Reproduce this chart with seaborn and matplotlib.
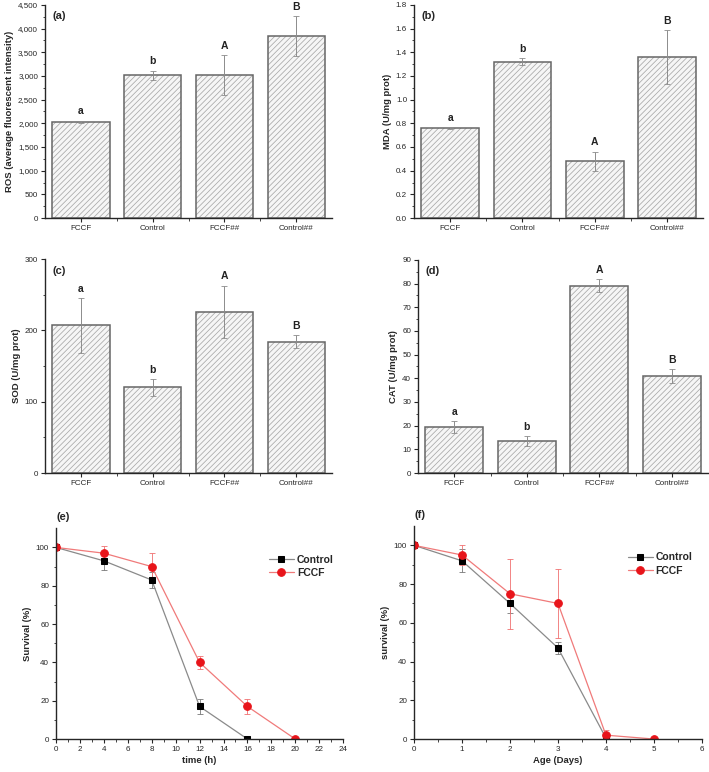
import numpy as np
import pandas as pd
import matplotlib
matplotlib.use("Agg")
import matplotlib.pyplot as plt
import matplotlib.ticker as mticker
from matplotlib.patches import Rectangle
import seaborn as sns

sns.set_style("ticks")
plt.rcParams['font.family'] = ['Liberation Sans', 'DejaVu Sans']
plt.rcParams['hatch.linewidth'] = 0.55

groups = ['FCCF', 'Control', 'FCCF##', 'Control##']

ros = [2035, 3015, 3025, 3850]
ros_err = [20, 95, 420, 420]
mda = [0.76, 1.32, 0.48, 1.36]
mda_err = [0.01, 0.03, 0.08, 0.23]
sod = [207, 120, 226, 184]
sod_err = [38, 12, 37, 9]
cat = [19.5, 13.5, 79.2, 41.0]
cat_err = [2.5, 2.2, 2.8, 2.8]
letters = ['a', 'b', 'A', 'B']

time_ctrl = [0, 4, 8, 12, 16]
surv_ctrl = [100, 93, 83, 17, 0]
surv_ctrl_err = [0, 5, 4, 4, 0]
time_fccf = [0, 4, 8, 12, 16, 20]
surv_fccf = [100, 97, 90, 40, 17, 0]
surv_fccf_err = [0, 3.5, 7, 3.5, 4, 0]

age_ctrl = [0, 1, 2, 3, 4]
age_surv_ctrl = [100, 92, 70, 47, 0.5]
age_surv_ctrl_err = [0, 6, 5, 3, 0]
age_fccf = [0, 1, 2, 3, 4, 5]
age_surv_fccf = [100, 95, 75, 70, 2, 0]
age_surv_fccf_err = [0, 5, 18, 18, 2.5, 0]

fig = plt.figure(figsize=(7.09, 7.72), dpi=100)

tick_fs = 5.8
lab_fs = 6.8


def style_axes(ax):
    sns.despine(ax=ax)
    ax.spines['left'].set_linewidth(1.0)
    ax.spines['bottom'].set_linewidth(1.0)
    ax.tick_params(axis='both', which='major', direction='out', length=3,
                   width=0.8, labelsize=tick_fs, pad=2)
    ax.tick_params(axis='both', which='minor', direction='out', length=1.8,
                   width=0.6)


def bar_panel(rect, vals, errs, ylab, ymax, major, minor, tag, comma=False):
    ax = fig.add_axes(rect)
    # hatch colour follows edge colour, so draw light hatch first, dark outline on top
    sns.barplot(x=groups, y=vals, ax=ax, color='#f6f6f6', errorbar=None,
                width=0.8, edgecolor='#a8a8a8', linewidth=0)
    for p in list(ax.patches):
        p.set_hatch('//////')
        ax.add_patch(Rectangle(p.get_xy(), p.get_width(), p.get_height(),
                               fill=False, edgecolor='#666666', linewidth=1.1, zorder=p.get_zorder() + 0.1))
    ax.errorbar(range(len(groups)), vals, yerr=errs, fmt='none',
                ecolor='#8c8c8c', elinewidth=0.7, capsize=2, capthick=0.6, zorder=5)
    for i, (v, e) in enumerate(zip(vals, errs)):
        ax.text(i, v + e + ymax * 0.02, letters[i], ha='center', va='bottom',
                fontsize=7.5, fontweight='bold', color='#222222')
    ax.set_xlim(-0.5, 3.5)
    ax.set_ylim(0, ymax)
    ax.yaxis.set_major_locator(mticker.MultipleLocator(major))
    ax.yaxis.set_minor_locator(mticker.MultipleLocator(minor))
    ax.xaxis.set_minor_locator(mticker.FixedLocator([0.5, 1.5, 2.5]))
    if comma:
        ax.yaxis.set_major_formatter(mticker.FuncFormatter(lambda v, p: f'{int(v):,}'))
    ax.set_ylabel(ylab, fontsize=lab_fs, fontweight='bold', labelpad=3)
    ax.set_xlabel('')
    style_axes(ax)
    ax.text(0.025, 0.97, tag, transform=ax.transAxes, ha='left', va='top',
            fontsize=8, fontweight='bold')
    return ax


bar_panel([0.0635, 0.7176, 0.405, 0.276], ros, ros_err,
          'ROS (average fluorescent intensity)', 4500, 500, 250, '(a)', comma=True)
bar_panel([0.584, 0.7176, 0.4076, 0.276], mda, mda_err,
          'MDA (U/mg prot)', 1.8, 0.2, 0.1, '(b)')
bar_panel([0.0635, 0.3873, 0.405, 0.277], sod, sod_err,
          'SOD (U/mg prot)', 300, 100, 50, '(c)')
bar_panel([0.5896, 0.3873, 0.409, 0.276], cat, cat_err,
          'CAT (U/mg prot)', 90, 10, 5, '(d)')


def line_panel(rect, xc, yc, ec, xf, yf, ef, xlab, ylab, xmax, xmajor, xminor, tag):
    ax = fig.add_axes(rect)
    ax.errorbar(xc, yc, yerr=ec, fmt='none', ecolor='#777777', elinewidth=0.6,
                capsize=2, capthick=0.6)
    ax.errorbar(xf, yf, yerr=ef, fmt='none', ecolor='#f07070', elinewidth=0.6,
                capsize=2, capthick=0.6)
    sns.lineplot(x=xc, y=yc, ax=ax, color='#8a8a8a', linewidth=0.9,
                 marker='s', markersize=5, markerfacecolor='black',
                 markeredgecolor='black', label='Control')
    sns.lineplot(x=xf, y=yf, ax=ax, color='#f07a7a', linewidth=0.9,
                 marker='o', markersize=5.5, markerfacecolor='#e8141a',
                 markeredgecolor='#e8141a', label='FCCF')
    ax.set_xlim(0, xmax)
    ax.set_ylim(0, 110)
    ax.xaxis.set_major_locator(mticker.MultipleLocator(xmajor))
    ax.xaxis.set_minor_locator(mticker.MultipleLocator(xminor))
    ax.yaxis.set_major_locator(mticker.FixedLocator([0, 20, 40, 60, 80, 100]))
    ax.yaxis.set_minor_locator(mticker.FixedLocator([10, 30, 50, 70, 90]))
    ax.set_xlabel(xlab, fontsize=lab_fs, fontweight='bold', labelpad=2)
    ax.set_ylabel(ylab, fontsize=lab_fs, fontweight='bold', labelpad=3)
    style_axes(ax)
    leg = ax.legend(loc='upper right', bbox_to_anchor=(1.0, 0.92), frameon=False,
                    fontsize=7.5, handlelength=2.4, handletextpad=0.3, labelspacing=0.3)
    for t in leg.get_texts():
        t.set_fontweight('bold')
    ax.text(0.0, 1.03, tag, transform=ax.transAxes, ha='left', va='bottom',
            fontsize=8, fontweight='bold')
    return ax


line_panel([0.079, 0.0427, 0.405, 0.273], time_ctrl, surv_ctrl, surv_ctrl_err,
           time_fccf, surv_fccf, surv_fccf_err, 'time (h)', 'Survival (%)',
           24, 2, 1, '(e)')
line_panel([0.584, 0.0427, 0.406, 0.276], age_ctrl, age_surv_ctrl, age_surv_ctrl_err,
           age_fccf, age_surv_fccf, age_surv_fccf_err, 'Age (Days)', 'survival (%)',
           6, 1, 0.5, '(f)')

fig.savefig('out.png', dpi=100)
